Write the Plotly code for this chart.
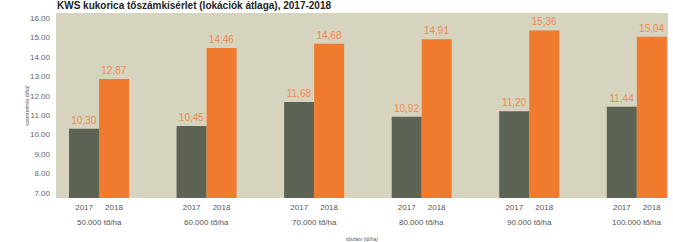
import plotly.graph_objects as go

groups = ["50.000 tő/ha", "60.000 tő/ha", "70.000 tő/ha", "80.000 tő/ha", "90.000 tő/ha", "100.000 tő/ha"]
years = ["2017", "2018"]
y2017 = [10.30, 10.45, 11.68, 10.92, 11.20, 11.44]
y2018 = [12.87, 14.46, 14.68, 14.91, 15.36, 15.04]
y_ticks = [7, 8, 9, 10, 11, 12, 13, 14, 15, 16]

x_idx = list(range(len(groups)))
off = 0.139

def lab(vals):
    return [f"{v:.2f}".replace(".", ",") for v in vals]

fig = go.Figure()
fig.add_trace(go.Bar(
    x=x_idx, y=y2017, name=years[0], marker_color="#5c6354", marker_line_width=0,
    text=lab(y2017), textposition="outside", constraintext="none", cliponaxis=False,
    textfont=dict(color="#f08a4c", size=10, family="Liberation Sans"), offsetgroup="a",
))
fig.add_trace(go.Bar(
    x=x_idx, y=y2018, name=years[1], marker_color="#f07a2e", marker_line_width=0,
    text=lab(y2018), textposition="outside", constraintext="none", cliponaxis=False,
    textfont=dict(color="#f08a4c", size=10, family="Liberation Sans"), offsetgroup="b",
))

tickvals, ticktext = [], []
for i in x_idx:
    tickvals += [i - off, i + off]
    ticktext += years

for i, g in zip(x_idx, groups):
    fig.add_annotation(x=i, y=0, xref="x", yref="paper", text=g, showarrow=False,
                       yanchor="middle", yshift=-24,
                       font=dict(size=8, color="#555555", family="Liberation Sans"))

fig.update_layout(
    width=673, height=242,
    margin=dict(l=56, r=5, t=13, b=44),
    paper_bgcolor="white", plot_bgcolor="#d6d4bf",
    barmode="group", bargap=0.442, bargroupgap=0,
    showlegend=False,
    font=dict(family="Liberation Sans", color="#555555"),
    title=dict(text="<b>KWS kukorica tőszámkísérlet (lokációk átlaga), 2017-2018</b>",
               x=57/673, xanchor="left", y=1 - 5.5/242, yanchor="middle", yref="container",
               font=dict(size=10, color="#222222", family="Liberation Sans")),
    xaxis=dict(range=[-0.40, 5.29], tickvals=tickvals, ticktext=ticktext,
               ticks="outside", ticklen=1, tickcolor="rgba(0,0,0,0)",
               showgrid=False, zeroline=False, automargin=False,
               tickfont=dict(size=8, color="#555555"),
               title=dict(text="tőszám (tő/ha)", standoff=27, font=dict(size=5, color="#555555"))),
    yaxis=dict(range=[6.74, 16.26], tickvals=y_ticks, tickformat=".2f", ticks="",
               showgrid=False, zeroline=False, automargin=False, ticklabelstandoff=5,
               tickfont=dict(size=8, color="#666666"),
               title=dict(text="szemtermés (t/ha)", standoff=0, font=dict(size=5, color="#555555"))),
)

fig.write_html("out.html", config={"displayModeBar": False},
               post_script="document.body.style.margin='0';document.body.style.overflow='hidden';")
